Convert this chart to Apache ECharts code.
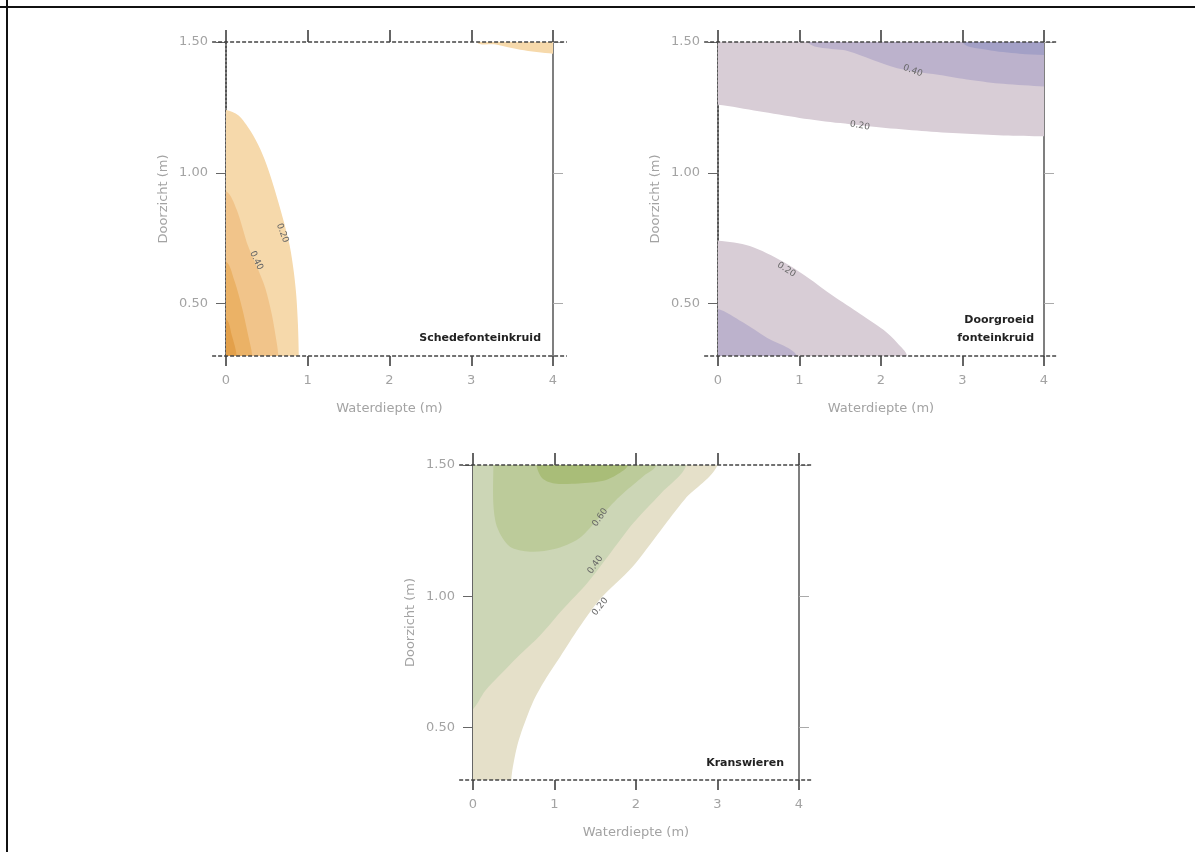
<!DOCTYPE html>
<html>
<head>
<meta charset="utf-8">
<title>Doorzicht en waterdiepte</title>
<script src="https://cdn.jsdelivr.net/npm/echarts@6/dist/echarts.min.js"></script>
<style>
  html, body { margin: 0; padding: 0; background: #ffffff; }
  #chart { width: 1195px; height: 852px; }
</style>
</head>
<body>
<div id="chart"></div>
<script>
// Axis ranges and ticks (shared by the three panels)
const X_MIN = 0, X_MAX = 4;
const Y_MIN = 0.3, Y_MAX = 1.5;
const Y_TICKS = [0.5, 1.0, 1.5];
const Y_TICK_LABELS = ['0.50', '1.00', '1.50'];
const X_NAME = 'Waterdiepte (m)';
const Y_NAME = 'Doorzicht (m)';

// Schedefonteinkruid: contour lines [waterdiepte, doorzicht]
const SCHED_20 = [[0, 1.24], [0.15, 1.22], [0.3, 1.16], [0.42, 1.09], [0.52, 1.01], [0.62, 0.91],
                  [0.71, 0.81], [0.78, 0.72], [0.83, 0.62], [0.86, 0.53], [0.88, 0.42], [0.89, 0.3]];
const SCHED_40 = [[0, 0.93], [0.13, 0.86], [0.27, 0.72], [0.38, 0.64], [0.48, 0.56], [0.56, 0.46],
                  [0.6, 0.39], [0.64, 0.3]];
const SCHED_60 = [[0, 0.66], [0.1, 0.59], [0.2, 0.48], [0.27, 0.38], [0.32, 0.3]];
const SCHED_80 = [[0, 0.44], [0.07, 0.38], [0.13, 0.3]];
const SCHED_TOP = [[3.07, 1.5], [3.3, 1.49], [3.6, 1.47], [4, 1.455]];
const SCHED_LABELS = [['0.20', 0.69, 0.77, -70], ['0.40', 0.37, 0.665, -65]];

// Doorgroeid fonteinkruid
const DOOR_TOP_20 = [[0, 1.26], [0.5, 1.235], [1, 1.21], [1.5, 1.19], [2, 1.173], [2.5, 1.16],
                     [3, 1.15], [3.5, 1.143], [4, 1.14]];
const DOOR_TOP_40 = [[1.1, 1.5], [1.6, 1.465], [2.2, 1.4], [2.7, 1.375], [3.1, 1.355], [3.5, 1.34], [4, 1.33]];
const DOOR_TOP_60 = [[3.0, 1.5], [3.3, 1.47], [3.7, 1.455], [4, 1.45]];
const DOOR_LOW_20 = [[0, 0.74], [0.39, 0.72], [0.8, 0.66], [1.1, 0.6], [1.41, 0.53], [1.75, 0.46],
                     [2.03, 0.4], [2.2, 0.35], [2.32, 0.3]];
const DOOR_LOW_40 = [[0, 0.48], [0.3, 0.43], [0.6, 0.37], [0.97, 0.3]];
const DOOR_LABELS = [['0.40', 2.39, 1.39, -20], ['0.20', 1.74, 1.18, -10], ['0.20', 0.84, 0.63, -32]];

// Kranswieren
const KRAN_20 = [[3.0, 1.5], [2.6, 1.37], [2.3, 1.25], [1.95, 1.11], [1.56, 0.99], [1.3, 0.88],
                 [1.07, 0.77], [0.9, 0.69], [0.74, 0.6], [0.58, 0.47], [0.52, 0.4], [0.47, 0.3]];
const KRAN_40 = [[2.62, 1.5], [2.3, 1.39], [1.97, 1.28], [1.65, 1.15], [1.4, 1.05], [1.1, 0.95],
                 [0.82, 0.85], [0.55, 0.77], [0.33, 0.7], [0.15, 0.64], [0, 0.57]];
const KRAN_60 = [[0.25, 1.5], [0.25, 1.35], [0.3, 1.26], [0.45, 1.19], [0.7, 1.17], [1.0, 1.18],
                 [1.3, 1.22], [1.55, 1.3], [1.8, 1.38], [2.1, 1.46], [2.25, 1.5]];
const KRAN_80 = [[0.78, 1.5], [0.85, 1.45], [1.0, 1.43], [1.3, 1.43], [1.6, 1.44], [1.8, 1.47], [1.9, 1.5]];
const KRAN_LABELS = [['0.60', 1.56, 1.30, 55], ['0.40', 1.50, 1.12, 55], ['0.20', 1.56, 0.96, 52]];

// Panel names
const PANEL_NAMES = ['Schedefonteinkruid', 'Doorgroeid\nfonteinkruid', 'Kranswieren'];

const FONT = '"DejaVu Sans"';
const GREY = '#a3a3a3';

// Grid placement of the three panels
const GRIDS = [
  { left: 226, top: 42, width: 327, height: 314 },
  { left: 718, top: 42, width: 326, height: 314 },
  { left: 473, top: 465, width: 326, height: 315 }
];

// Closing edges run just outside the plot, so the clipped fill ends on the frame
const LEFT = -0.3, RIGHT = 4.3, LOW = 0.1, HIGH = 1.7;

const xAxes = [], yAxes = [], series = [];

GRIDS.forEach((g, gi) => {
  xAxes.push({
    gridIndex: gi, type: 'value', position: 'bottom', min: X_MIN, max: X_MAX, interval: 1,
    name: X_NAME, nameLocation: 'middle', nameGap: 46,
    nameTextStyle: { color: GREY, fontFamily: FONT, fontSize: 13 },
    axisLine: { show: false, onZero: false },
    axisTick: { show: true, inside: false, length: 10, lineStyle: { color: '#333', width: 1.5 } },
    axisLabel: { color: GREY, fontFamily: FONT, fontSize: 13, margin: 18 },
    splitLine: { show: false }
  });
  xAxes.push({
    gridIndex: gi, type: 'value', position: 'top', min: X_MIN, max: X_MAX, interval: 1,
    axisLine: { show: false, onZero: false },
    axisTick: { show: true, inside: false, length: 12, lineStyle: { color: '#333', width: 1.5 } },
    axisLabel: { show: false },
    splitLine: { show: false }
  });
  yAxes.push({
    gridIndex: gi, type: 'value', position: 'left', min: Y_MIN, max: Y_MAX,
    name: Y_NAME, nameLocation: 'middle', nameGap: 56, nameRotate: 90,
    nameTextStyle: { color: GREY, fontFamily: FONT, fontSize: 13 },
    axisLine: {
      show: true, onZero: false,
      lineStyle: { color: gi === 2 ? '#333' : '#555', width: gi === 2 ? 1.5 : 2, type: gi === 2 ? 'solid' : 'dotted' }
    },
    axisTick: { show: true, inside: false, length: 10, customValues: Y_TICKS, lineStyle: { color: '#666' } },
    axisLabel: {
      color: GREY, fontFamily: FONT, fontSize: 13, margin: 18, customValues: Y_TICKS,
      formatter: v => Y_TICK_LABELS[Y_TICKS.findIndex(t => Math.abs(t - v) < 1e-6)] || ''
    },
    splitLine: { show: false }
  });
  yAxes.push({
    gridIndex: gi, type: 'value', position: 'right', min: Y_MIN, max: Y_MAX,
    axisLine: { show: true, onZero: false, lineStyle: { color: '#555', width: 1.5 } },
    axisTick: { show: true, inside: false, length: 10, customValues: Y_TICKS, lineStyle: { color: '#aaa' } },
    axisLabel: { show: false },
    splitLine: { show: false }
  });
});

// Filled band between a contour line and the plot edges
function band(gi, contour, closure, color) {
  const poly = contour.concat(closure);
  series.push({
    type: 'custom', xAxisIndex: gi * 2, yAxisIndex: gi * 2, silent: true, clip: true,
    data: contour,
    renderItem: (params, api) => {
      if (params.dataIndex !== 0) return null;
      return {
        type: 'polygon',
        shape: { points: poly.map(p => api.coord(p)), smooth: 0.3 },
        style: { fill: color }
      };
    }
  });
}

// Contour value labels
function contourLabels(gi, labels) {
  series.push({
    type: 'custom', xAxisIndex: gi * 2, yAxisIndex: gi * 2, silent: true, clip: false,
    data: labels.map(l => [l[1], l[2], l[3]]),
    renderItem: (params, api) => {
      const pt = api.coord([api.value(0), api.value(1)]);
      return {
        type: 'text', x: pt[0], y: pt[1], rotation: api.value(2) * Math.PI / 180, z2: 10,
        style: { text: labels[params.dataIndex][0], fill: '#666', font: '9px ' + FONT, align: 'center', verticalAlign: 'middle' }
      };
    }
  });
}

// Horizontal frame lines of a panel, running a little past the plot sides
function frameLines(gi) {
  series.push({
    type: 'custom', xAxisIndex: gi * 2, yAxisIndex: gi * 2, silent: true, clip: false,
    data: [Y_MIN, Y_MAX],
    renderItem: (params, api) => {
      const y = api.value(0);
      const a = api.coord([X_MIN - 0.17, y]);
      const b = api.coord([X_MAX + 0.17, y]);
      return {
        type: 'line', shape: { x1: a[0], y1: a[1], x2: b[0], y2: b[1] },
        style: { stroke: '#444', lineWidth: 1.6, lineDash: [4, 2] }
      };
    }
  });
}

// Schedefonteinkruid (orange)
band(0, SCHED_20, [[0.89, LOW], [LEFT, LOW], [LEFT, 1.24]], '#f6d9ab');
band(0, SCHED_TOP, [[RIGHT, 1.45], [RIGHT, HIGH], [3.07, HIGH]], '#f6d9ab');
band(0, SCHED_40, [[0.64, LOW], [LEFT, LOW], [LEFT, 0.93]], '#f1c48a');
band(0, SCHED_60, [[0.32, LOW], [LEFT, LOW], [LEFT, 0.66]], '#ebb266');
band(0, SCHED_80, [[0.13, LOW], [LEFT, LOW], [LEFT, 0.44]], '#e3a04a');
contourLabels(0, SCHED_LABELS);

// Doorgroeid fonteinkruid (purple)
band(1, DOOR_TOP_20, [[RIGHT, 1.14], [RIGHT, HIGH], [LEFT, HIGH], [LEFT, 1.26]], '#d8cdd6');
band(1, DOOR_TOP_40, [[RIGHT, 1.33], [RIGHT, HIGH], [1.1, HIGH]], '#bcb2cc');
band(1, DOOR_TOP_60, [[RIGHT, 1.45], [RIGHT, HIGH], [3.0, HIGH]], '#a3a0c6');
band(1, DOOR_LOW_20, [[2.32, LOW], [LEFT, LOW], [LEFT, 0.74]], '#d8cdd6');
band(1, DOOR_LOW_40, [[0.97, LOW], [LEFT, LOW], [LEFT, 0.48]], '#bcb2cc');
contourLabels(1, DOOR_LABELS);

// Kranswieren (green)
band(2, KRAN_20, [[0.47, LOW], [LEFT, LOW], [LEFT, HIGH], [3.0, HIGH]], '#e5e0c9');
band(2, KRAN_40, [[LEFT, 0.5], [LEFT, HIGH], [2.62, HIGH]], '#ccd6b6');
band(2, KRAN_60, [[2.25, HIGH], [0.25, HIGH]], '#bccb9a');
band(2, KRAN_80, [[1.9, HIGH], [0.78, HIGH]], '#a9bd78');
contourLabels(2, KRAN_LABELS);

[0, 1, 2].forEach(frameLines);

// Panel names, bottom right inside each plot
const NAME_POS = [[541, 338], [1034, 329], [784, 763]];
const graphics = [
  { type: 'line', shape: { x1: 7, y1: 0, x2: 7, y2: 852 }, style: { stroke: '#111', lineWidth: 2 } },
  { type: 'line', shape: { x1: 0, y1: 7, x2: 1195, y2: 7 }, style: { stroke: '#111', lineWidth: 2 } }
];
PANEL_NAMES.forEach((n, i) => {
  graphics.push({
    type: 'text', x: NAME_POS[i][0], y: NAME_POS[i][1], z: 100,
    style: { text: n, fill: '#222', font: 'bold 11px ' + FONT, align: 'right', verticalAlign: 'middle', lineHeight: 18 }
  });
});

const chart = echarts.init(document.getElementById('chart'), null, { renderer: 'canvas' });
chart.setOption({
  animation: false,
  backgroundColor: '#ffffff',
  grid: GRIDS.map(g => Object.assign({ containLabel: false }, g)),
  xAxis: xAxes,
  yAxis: yAxes,
  series: series,
  graphic: graphics
});
</script>
</body>
</html>
